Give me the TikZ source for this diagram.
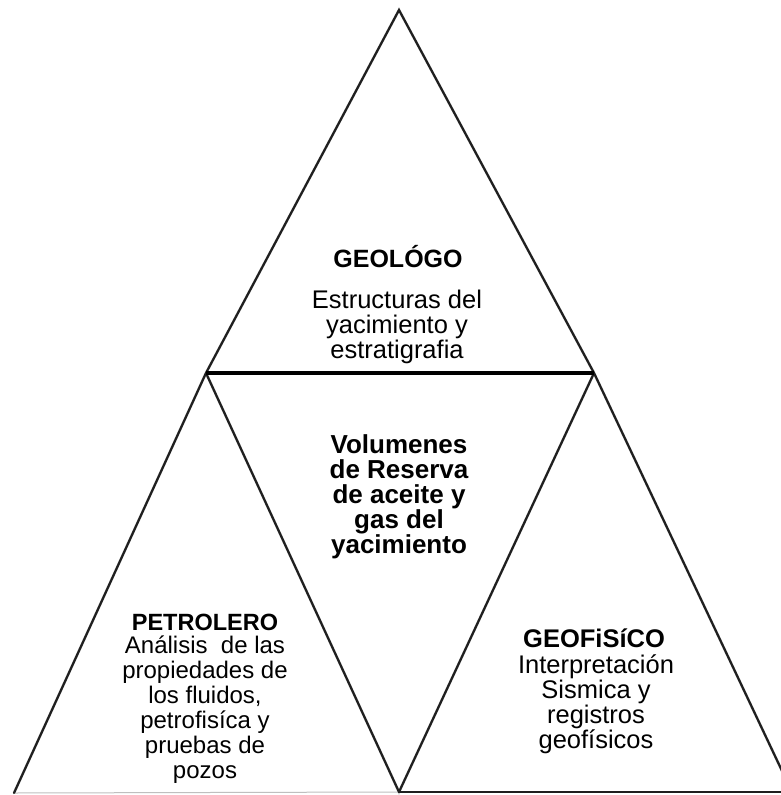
\documentclass[tikz,border=0pt]{standalone}
\usepackage{fontspec}
\setmainfont{Liberation Sans}
\begin{document}
\begin{tikzpicture}[x=1pt,y=-1pt,
  edge/.style={draw=black!88, line width=2.2pt, line cap=round, line join=miter},
  thickedge/.style={draw=black, line width=3.5pt},
  shade/.style={draw=black!22, line width=2.6pt, shift={(2.2,2.2)}},
  faint/.style={draw=black!25, line width=1pt},
  ttl/.style={inner sep=0pt, anchor=base, font=\bfseries\fontsize{#1}{25}\selectfont},
  txt/.style={inner sep=0pt, anchor=base, align=center, font=\fontsize{#1}{25}\selectfont}
]
\useasboundingbox (0,0) rectangle (781,795);
\fill[white] (0,0) rectangle (781,795);

% vertices
\coordinate (A) at (399,10);
\coordinate (B) at (206,373);
\coordinate (C) at (594,373);
\coordinate (D) at (14,793);
\coordinate (E) at (399,792);
\coordinate (G) at (792,792);

% shadows
\draw[shade] (B) -- (A) -- (C);
\draw[shade] (B) -- (D);
\draw[shade] (B) -- (E) -- (C) -- (G);
\draw[shade] (E) -- (G);
\draw[shade] (B) -- (C);

% outlines
\draw[faint] (D) -- (E);
\draw[edge] (B) -- (A) -- (C);
\draw[edge] (B) -- (D);
\draw[edge] (B) -- (E);
\draw[edge] (C) -- (E);
\draw[edge] (C) -- (G);
\draw[edge] (E) -- (G);
\draw[thickedge] (B) -- (C);

% texts (base anchor = baseline of the last line)
\node[ttl=25] (geoTitle) at (398,267) {GEOLÓGO};
\node[txt=25.5] (geoBody) at (397,358) {Estructuras del\\yacimiento y\\estratigrafia};

\node[txt=26, font=\bfseries\fontsize{26}{25}\selectfont] (mid) at (399,553)
  {Volumenes\\de Reserva\\de aceite y\\gas del\\yacimiento};

\node[ttl=23.5] (petTitle) at (205,630) {PETROLERO};
\node[txt=24] (petBody) at (205,778)
  {Análisis\ \ de las\\propiedades de\\los fluidos,\\petrofisíca y\\pruebas de\\pozos};

\node[ttl=25.5] (gfTitle) at (594,647) {GEOFiSíCO};
\node[txt=25.5] (gfBody) at (596,748)
  {Interpretación\\Sismica y\\registros\\geofísicos};
\end{tikzpicture}
\end{document}
